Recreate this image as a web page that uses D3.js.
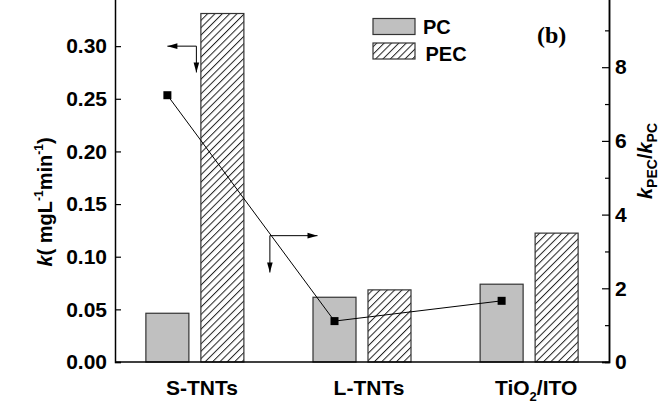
<!DOCTYPE html>
<html><head><meta charset="utf-8">
<script src="https://cdn.jsdelivr.net/npm/d3@7"></script>
<style>
body{margin:0;background:#fff;}
svg{display:block;font-family:"Liberation Sans",Arial,sans-serif;font-weight:bold;}
</style></head>
<body>
<svg id="chart" width="661" height="403"></svg>
<script>
const categories = ["S-TNTs", "L-TNTs", "TiO2/ITO"];
const seriesNames = ["PC", "PEC"];
const pcValues = [0.0463, 0.0615, 0.0739];
const pecValues = [0.331, 0.0685, 0.1224];
const ratioValues = [7.24, 1.11, 1.66];
const leftTicks = [0, 0.05, 0.10, 0.15, 0.20, 0.25, 0.30];
const rightMajorTicks = [0, 2, 4, 6, 8];
const rightMinorTicks = [1, 3, 5, 7, 9];

const svg = d3.select("#chart");
const L = 115, R = 609, T = -6.5, B = 362;

const x = d3.scalePoint().domain(categories).range([L, R]).padding(0.478);
const xs = d3.scaleBand().domain(seriesNames).range([-49, 49]).paddingInner(0.218);
const yL = d3.scaleLinear().domain([0, 0.35]).range([B, T]);
const yR = d3.scaleLinear().domain([0, 10]).range([B, T]);

// hatch pattern
const defs = svg.append("defs");
const pat = defs.append("pattern").attr("id", "hatch").attr("patternUnits", "userSpaceOnUse")
  .attr("width", 5.2).attr("height", 5.2).attr("patternTransform", "rotate(45)");
pat.append("rect").attr("width", 5.2).attr("height", 5.2).attr("fill", "#fff");
pat.append("line").attr("x1", 0.5).attr("y1", 0).attr("x2", 0.5).attr("y2", 5.2)
  .attr("stroke", "#222").attr("stroke-width", 1);

const fills = {PC: "#c0c0c0", PEC: "url(#hatch)"};
const rows = categories.map((c, i) => ({c, PC: pcValues[i], PEC: pecValues[i], r: ratioValues[i]}));

// bars
const g = svg.append("g");
rows.forEach(d => {
  seriesNames.forEach(s => {
    g.append("rect")
      .attr("x", x(d.c) + xs(s))
      .attr("y", yL(d[s]))
      .attr("width", xs.bandwidth())
      .attr("height", B - yL(d[s]))
      .attr("fill", fills[s])
      .attr("stroke", "#333").attr("stroke-width", 1.2);
  });
});

// ratio line
const px = d => x(d.c) + xs("PC") + xs.bandwidth() / 2;
svg.append("path").datum(rows)
  .attr("d", d3.line().x(px).y(d => yR(d.r)))
  .attr("fill", "none").attr("stroke", "#000").attr("stroke-width", 1);
svg.selectAll(".pt").data(rows).enter().append("rect")
  .attr("x", d => px(d) - 4).attr("y", d => yR(d.r) - 4)
  .attr("width", 8).attr("height", 8).attr("fill", "#000");

// axes
const axL = d3.axisLeft(yL).tickValues(leftTicks).tickSize(-6).tickPadding(8).tickFormat(d3.format(".2f"));
const gL = svg.append("g").attr("transform", `translate(${L},0)`).call(axL);
const axR = d3.axisRight(yR).tickValues(rightMajorTicks).tickSize(-7).tickPadding(6).tickFormat(d3.format("d"));
const gR = svg.append("g").attr("transform", `translate(${R},0)`).call(axR);
const axRm = d3.axisRight(yR).tickValues(rightMinorTicks).tickSize(-4).tickFormat("");
const gRm = svg.append("g").attr("transform", `translate(${R},0)`).call(axRm);
[gL, gR, gRm].forEach(a => {
  a.selectAll("path.domain").attr("stroke", "#000").attr("stroke-width", 1.5);
  a.selectAll("line").attr("stroke", "#000").attr("stroke-width", 1.2);
  a.selectAll("text").attr("font-size", 21).attr("font-weight", "bold")
    .attr("font-family", "Liberation Sans, Arial, sans-serif").attr("fill", "#000");
});
svg.append("line").attr("x1", L).attr("x2", R).attr("y1", B).attr("y2", B)
  .attr("stroke", "#000").attr("stroke-width", 1.5);

// category labels
const xl = svg.append("g");
categories.forEach(c => {
  const t = xl.append("text").attr("x", x(c) + 7).attr("y", 394.5)
    .attr("text-anchor", "middle").attr("font-size", 21);
  if (c === "TiO2/ITO") {
    t.append("tspan").text("TiO");
    t.append("tspan").attr("font-size", 13).attr("dy", 6).text("2");
    t.append("tspan").attr("dy", -6).text("/ITO");
  } else t.text(c);
});

// axis titles
const tl = svg.append("text").attr("transform", "translate(52,202) rotate(-90)")
  .attr("text-anchor", "middle").attr("font-size", 20);
tl.append("tspan").attr("font-style", "italic").text("k");
tl.append("tspan").text("( mgL");
tl.append("tspan").attr("font-size", 12).attr("dy", -9).text("-1");
tl.append("tspan").attr("dy", 9).text("min");
tl.append("tspan").attr("font-size", 12).attr("dy", -9).text("-1");
tl.append("tspan").attr("dy", 9).text(")");

const tr = svg.append("text").attr("transform", "translate(652,161) rotate(-90)")
  .attr("text-anchor", "middle").attr("font-size", 20);
tr.append("tspan").attr("font-style", "italic").text("k");
tr.append("tspan").attr("font-size", 14).attr("dy", 5).text("PEC");
tr.append("tspan").attr("dy", -5).text("/");
tr.append("tspan").attr("font-style", "italic").text("k");
tr.append("tspan").attr("font-size", 14).attr("dy", 5).text("PC");

// legend
const lg = svg.append("g");
seriesNames.forEach((s, i) => {
  lg.append("rect").attr("x", 373).attr("y", 18.5 + i * 24.5).attr("width", 42).attr("height", 16)
    .attr("fill", fills[s]).attr("stroke", "#333").attr("stroke-width", 1.2);
  lg.append("text").attr("x", 423 + i * 2.5).attr("y", 34 + i * 27).attr("font-size", 20).text(s);
});

svg.append("text").attr("x", 537).attr("y", 43).attr("font-family", "Liberation Serif, Times New Roman, serif")
  .attr("font-weight", "bold").attr("font-size", 24).text("(b)");

// annotation arrows
function arrowHead(tx, ty, dir) {
  const len = 10, hw = 2.8;
  let p;
  if (dir === "left") p = [[tx, ty], [tx + len, ty - hw], [tx + len, ty + hw]];
  if (dir === "right") p = [[tx, ty], [tx - len, ty - hw], [tx - len, ty + hw]];
  if (dir === "down") p = [[tx, ty], [tx - hw, ty - len], [tx + hw, ty - len]];
  svg.append("path").attr("d", "M" + p.join("L") + "Z").attr("fill", "#000");
}
function elbow(cx, cy, hx, vy, hdir) {
  svg.append("path").attr("d", `M${hx},${cy}L${cx},${cy}L${cx},${vy}`)
    .attr("fill", "none").attr("stroke", "#000").attr("stroke-width", 1);
  arrowHead(hx, cy, hdir);
  arrowHead(cx, vy, "down");
}
elbow(x(categories[0]) + 1.5, yL(0.30), px(rows[0]), yL(0.275), "left");
elbow(x(categories[0]) + 75, yL(0.12), x(categories[1]) - 44.5, yL(0.085), "right");
</script>
</body></html>
